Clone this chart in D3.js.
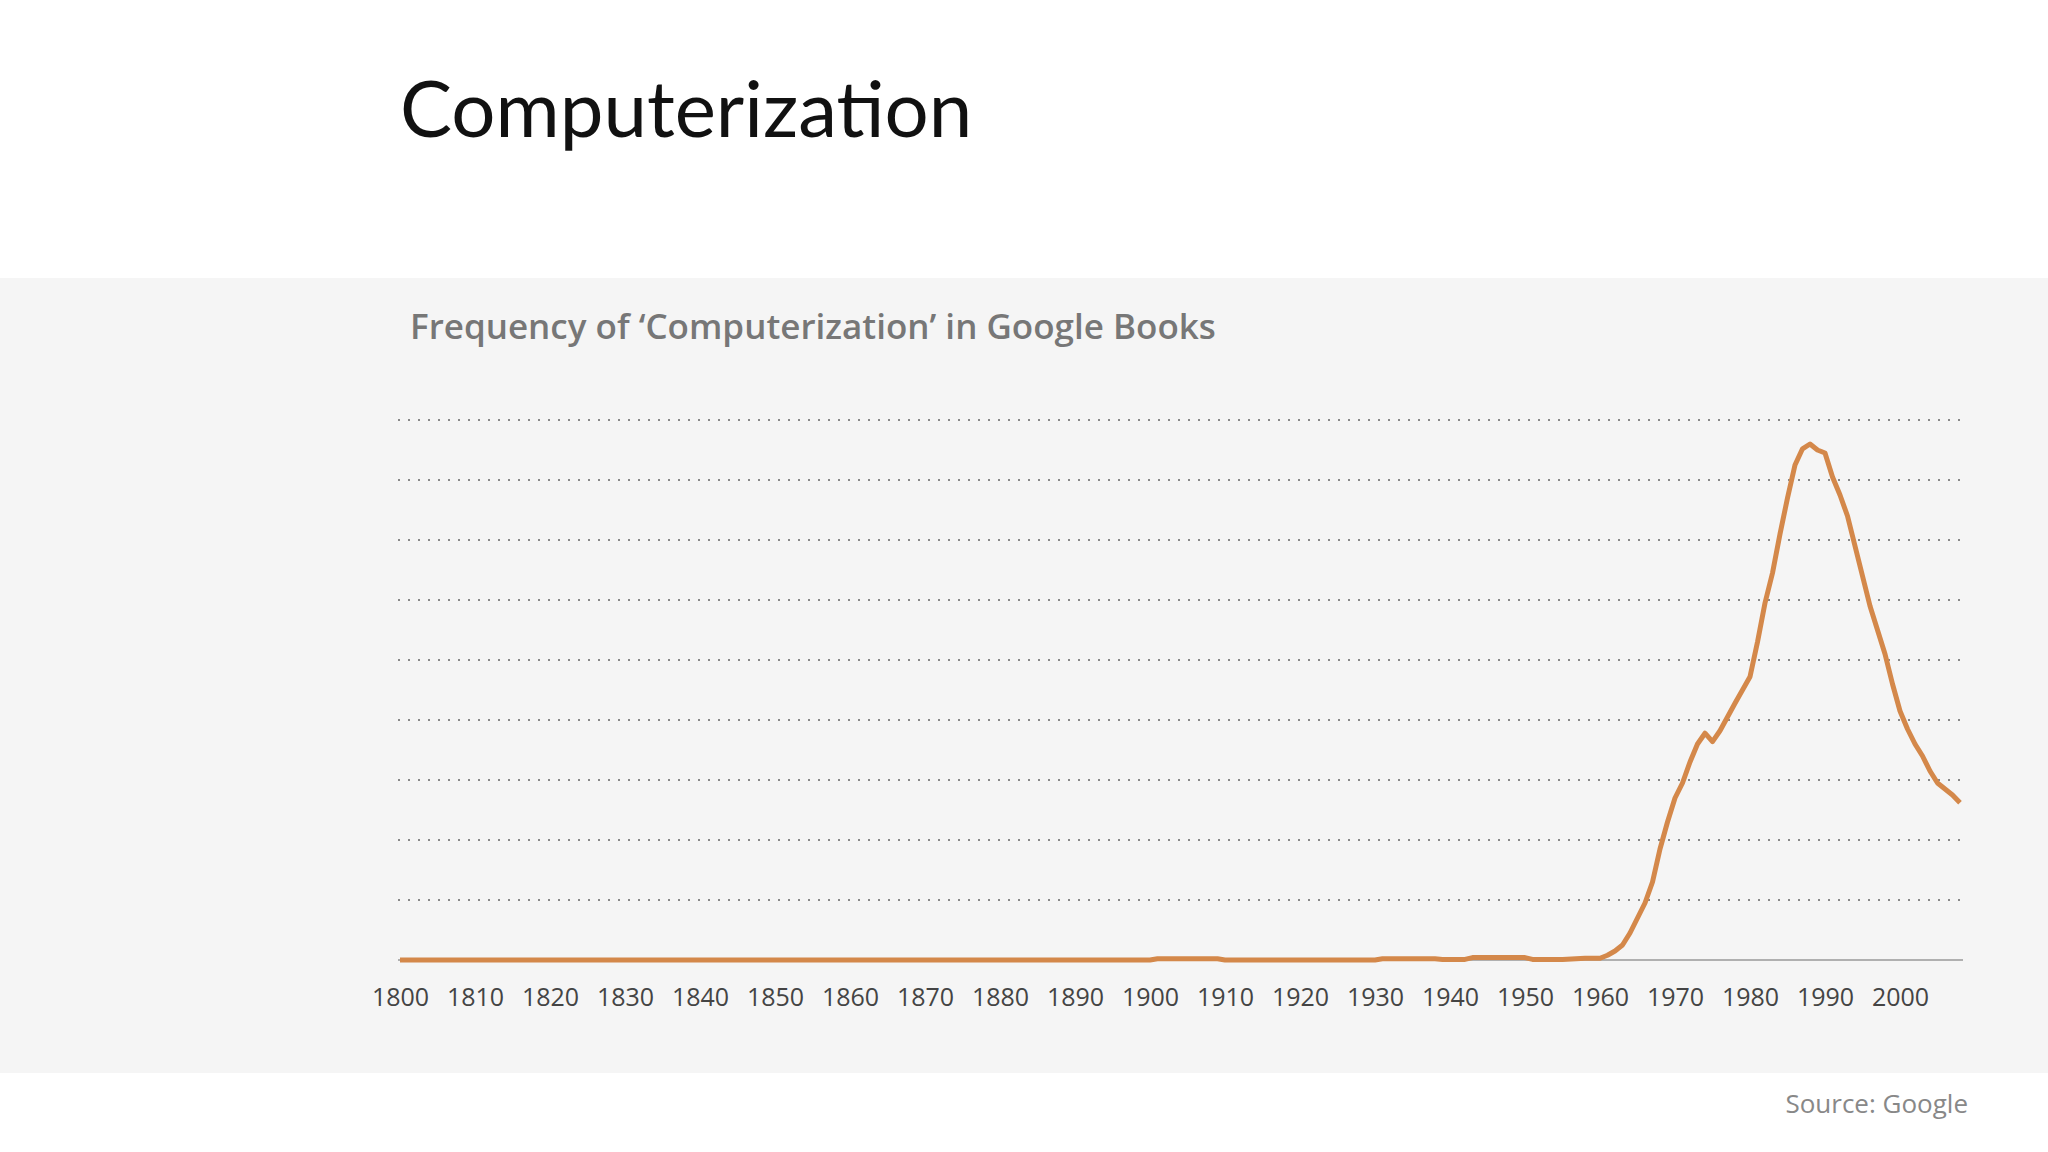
<!DOCTYPE html>
<html><head><meta charset="utf-8">
<script src="https://cdn.jsdelivr.net/npm/d3@7"></script>
<style>body{margin:0;background:#fff}svg{display:block}</style>
</head><body>
<svg id="c" width="2048" height="1152"></svg>
<script>
const title = "Computerization";
const subtitle = "Frequency of \u2018Computerization\u2019 in Google Books";
const source = "Source: Google";
const tickYears = d3.range(1800, 2001, 10);
const gridLevels = d3.range(1, 10);
const keyYears = [1800,1900,1901,1909,1910,1930,1931,1938,1939,1942,1943,1950,1951,1955,1958,1960,1961,1962,1963,1964,1965,1966,1967,1968,1969,1970,1971,1972,1973,1974,1975,1976,1977,1978,1979,1980,1981,1982,1983,1984,1985,1986,1987,1988,1989,1990,1991,1992,1993,1994,1995,1996,1997,1998,1999,2000,2001,2002,2003,2004,2005,2006,2007,2008];
const keyValues = [0,0,0.02,0.02,0,0,0.02,0.02,0.01,0.01,0.04,0.04,0.01,0.01,0.03,0.03,0.08,0.15,0.25,0.45,0.7,0.95,1.3,1.85,2.3,2.7,2.95,3.3,3.6,3.78,3.64,3.82,4.05,4.28,4.5,4.72,5.3,5.95,6.45,7.1,7.7,8.25,8.52,8.6,8.5,8.45,8.05,7.75,7.4,6.9,6.4,5.9,5.5,5.1,4.6,4.15,3.85,3.6,3.4,3.15,2.95,2.85,2.75,2.62];

const svg = d3.select("#c");
const F = "Lato, 'Open Sans', sans-serif";
svg.append("rect").attr("x",0).attr("y",278).attr("width",2048).attr("height",795).attr("fill","#f5f5f5");
svg.append("text").attr("x",400).attr("y",137).attr("font-family",F).attr("font-size",78).attr("fill","#111").text(title);
svg.append("text").attr("x",410).attr("y",339).attr("font-family","'Open Sans', sans-serif").attr("font-weight",600).attr("font-size",35).attr("fill","#777").text(subtitle);
svg.append("text").attr("x",1968).attr("y",1113).attr("text-anchor","end").attr("font-family","'Open Sans', sans-serif").attr("font-size",26).attr("fill","#888").text(source);

const x = d3.scaleLinear().domain([1800,2000]).range([400,1900]);
const y = d3.scaleLinear().domain([0,9]).range([960,420]);

svg.append("g").selectAll("line").data(gridLevels).join("line")
  .attr("x1",398).attr("x2",1963).attr("y1",d=>y(d)).attr("y2",d=>y(d))
  .attr("stroke","#888").attr("stroke-width",2).attr("stroke-dasharray","2,8");
svg.append("line").attr("x1",398).attr("x2",1963).attr("y1",y(0)).attr("y2",y(0)).attr("stroke","#999").attr("stroke-width",1.5);

const ax = svg.append("g").attr("transform","translate(0,960)")
  .call(d3.axisBottom(x).tickValues(tickYears).tickFormat(d3.format("d")).tickSize(0).tickPadding(28));
ax.select(".domain").remove();
ax.selectAll("text").attr("font-family","'Open Sans', sans-serif").attr("font-size",25).attr("fill","#444");

const data = keyYears.map((yr,i)=>[yr,keyValues[i]]);
svg.append("path").datum(data)
  .attr("d", d3.line().x(d=>x(d[0])).y(d=>y(d[1])))
  .attr("fill","none").attr("stroke","#d4884a").attr("stroke-width",5).attr("stroke-linejoin","round");
</script>
</body></html>
